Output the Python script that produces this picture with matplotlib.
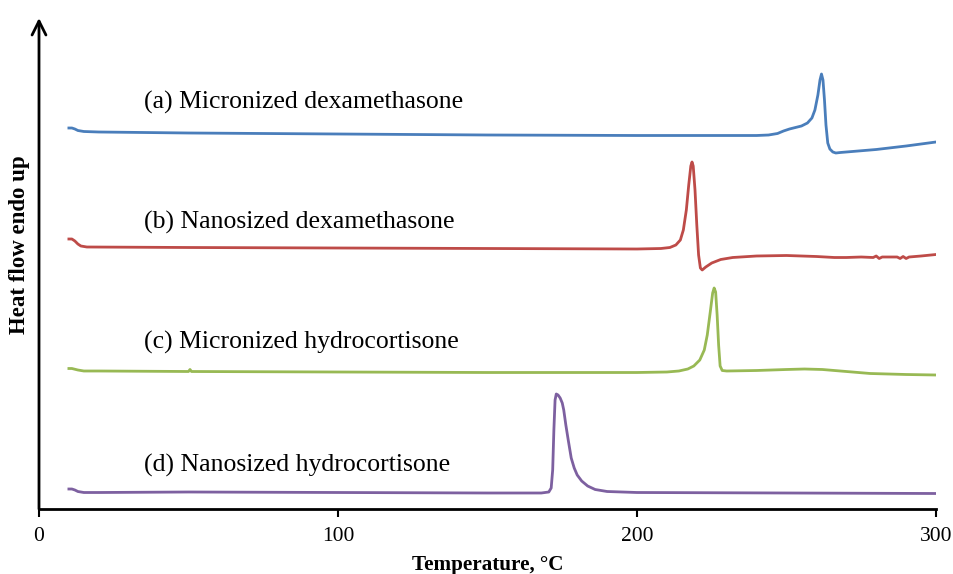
import numpy as np
import matplotlib.pyplot as plt

# DSC thermograms, heat flow in arbitrary units (offset per trace)
temp_a = [10, 11, 12, 13, 15, 20, 50, 100, 150, 200, 240, 244, 247, 249, 251, 253, 255, 257,
          258.5, 259.5, 260.5, 261.2, 261.7, 262.2, 262.7, 263.2, 263.8, 264.5, 265.5, 266.5,
          268, 270, 280, 290, 300]
flow_a = [381, 381, 380, 378.5, 377.5, 377, 376, 375, 374, 373.5, 373.5, 374, 375.5, 378, 380,
          381.5, 383, 386, 391, 399, 414, 429, 435, 429, 409, 384, 366, 360, 357, 356,
          356.5, 357, 359.5, 363, 367]

temp_b = [10, 11, 12, 13, 14, 16, 50, 100, 150, 200, 208, 211, 213, 214.5, 215.5, 216.5, 217.3,
          218, 218.4, 218.8, 219.4, 220, 220.6, 221.2, 221.8, 223, 225, 228, 232, 240, 250, 260,
          266, 270, 275, 279, 280, 281, 282, 287, 288, 289, 290, 291, 295, 300]
flow_b = [270, 270, 268, 265, 263, 262, 261.5, 261, 260.5, 260, 260.5, 261.5, 264, 269, 279, 299,
          324, 343, 347, 343, 319, 284, 254, 241, 239, 242, 246, 249.5, 251.5, 253, 253.5, 252.5,
          251.5, 251.5, 252, 251.5, 253, 250.5, 252, 252, 250.5, 252.5, 250.5, 252, 253, 254.5]

temp_c = [10, 11, 13, 15, 20, 50, 50.5, 51, 100, 150, 200, 210, 214, 217, 219, 221, 222.5, 223.5,
          224.5, 225.3, 225.8, 226.3, 226.8, 227.3, 227.8, 228.5, 230, 240, 250, 256, 262, 270,
          278, 290, 300]
flow_c = [140.5, 140.5, 139, 138, 138, 137.5, 139.5, 137.5, 137, 136.5, 136.5, 137, 138, 140, 143,
          149, 159, 174, 197, 216, 221, 217, 194, 164, 143, 138.5, 138, 138.5, 139.5, 140, 139.5,
          137.5, 135.5, 134.5, 134]

temp_d = [10, 11, 12, 13, 15, 20, 50, 100, 150, 168, 170.5, 171.3, 171.8, 172.2, 172.6, 173, 173.6,
          174.3, 175, 175.5, 176.2, 177, 178, 179, 180, 181.5, 183.5, 186, 190, 200, 250, 300]
flow_d = [20, 20, 19, 17.5, 16.5, 16.5, 17, 16.5, 16, 16, 17, 21, 39, 79, 109, 115, 114,
          111, 106, 99, 84, 69, 51, 41, 34, 28, 23, 19.5, 17.5, 16.5, 16, 15.5]

labels = ["(a) Micronized dexamethasone", "(b) Nanosized dexamethasone",
          "(c) Micronized hydrocortisone", "(d) Nanosized hydrocortisone"]
label_y = [407, 287, 167, 44]
colors = ["#4A7EBB", "#BE4B48", "#98B954", "#7D60A0"]

plt.rcParams["font.family"] = ["Liberation Serif", "DejaVu Serif"]

fig = plt.figure(figsize=(9.54, 5.74), dpi=100)
ax = fig.add_axes([39 / 954, 65 / 574, 897 / 954, 491 / 574])

series = [(temp_a, flow_a), (temp_b, flow_b), (temp_c, flow_c), (temp_d, flow_d)]
for (t, f), c in zip(series, colors):
    ax.plot(t, f, color=c, lw=2.0, solid_joinstyle="round")

for lab, y in zip(labels, label_y):
    ax.text(35, y, lab, fontsize=18.5, va="center", ha="left")

ax.set_xlim(0, 300)
ax.set_ylim(0, 491)
ax.set_xticks([0, 100, 200, 300])
ax.set_yticks([])
ax.tick_params(axis="x", direction="out", length=6, width=1.5, labelsize=15.5, pad=7)

for s in ["top", "right", "left"]:
    ax.spines[s].set_visible(False)
ax.spines["bottom"].set_linewidth(2)

# y axis drawn as an arrow
ax.annotate("", xy=(0, 1.0), xycoords="axes fraction", xytext=(0, 0),
            arrowprops=dict(arrowstyle="->", lw=2, color="black",
                            mutation_scale=25, shrinkA=0, shrinkB=0),
            annotation_clip=False)

ax.set_ylabel("Heat flow endo up", fontsize=16.5, fontweight="bold")
ax.yaxis.set_label_coords(-0.0105, 0.538)
ax.set_xlabel("Temperature, °C", fontsize=15.2, fontweight="bold", va="top")
ax.xaxis.set_label_coords(0.5, -0.093)

fig.savefig("out.png", dpi=100)
